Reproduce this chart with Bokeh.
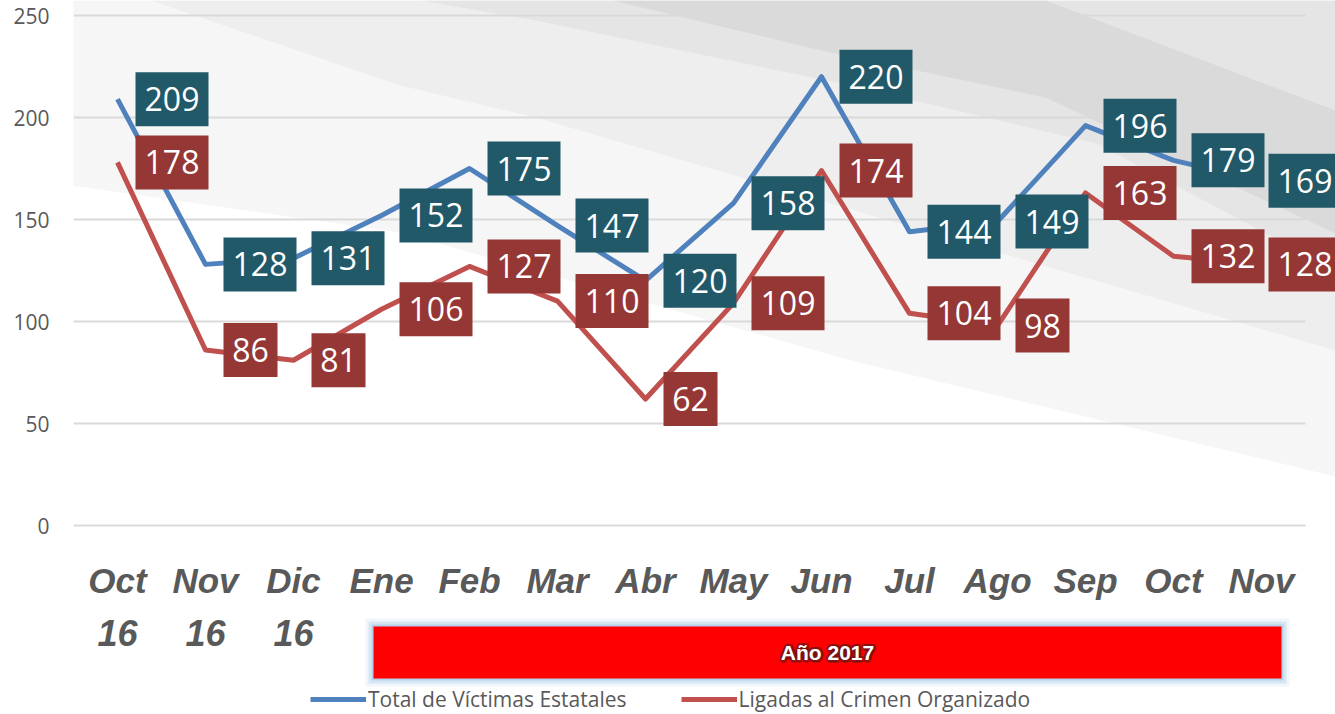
from bokeh.plotting import figure
from bokeh.models import (Range1d, FixedTicker, Legend, LegendItem, ColumnDataSource)
from bokeh.embed import file_html
from bokeh.resources import INLINE
from bokeh.core.properties import value

# ---------------- data ----------------
months = ["Oct", "Nov", "Dic", "Ene", "Feb", "Mar", "Abr", "May", "Jun",
          "Jul", "Ago", "Sep", "Oct", "Nov"]
years = ["16", "16", "16", "", "", "", "", "", "", "", "", "", "", ""]
total = [209, 128, 131, 152, 175, 147, 120, 158, 220, 144, 149, 196, 179, 169]
ligadas = [178, 86, 81, 106, 127, 110, 62, 109, 174, 104, 98, 163, 132, 128]
y_ticks = [0, 50, 100, 150, 200, 250]
series_names = ["Total de Víctimas Estatales", "Ligadas al Crimen Organizado"]
banner_text = "Año 2017"
banner_first, banner_last = 3, 13   # Ene .. Nov 2017

# ---------------- layout constants ----------------
W, H = 1335, 714
LEFT = 73
PLOT_RIGHT = 1305                    # where the category band / grid ends
N = len(months)
PX_X = (PLOT_RIGHT - LEFT) / N       # 88 px per category
FRAME_BOTTOM = 525                   # pixel row of value 0
PX_Y = (FRAME_BOTTOM - 15) / y_ticks[-1]   # 2.04 px per unit

def dx(px):   # screen px -> x data
    return (px - LEFT) / PX_X - 0.5

def dy(py):   # screen px -> y data
    return (FRAME_BOTTOM - py) / PX_Y

GREY = "#595959"
BLUE = "#4F81BD"
RED = "#C0504D"
BOX_BLUE = "#215968"
BOX_RED = "#953735"

p = figure(width=W, height=H, output_backend="svg", toolbar_location=None,
           x_range=Range1d(dx(LEFT), dx(W)), y_range=Range1d(dy(H), dy(0)),
           min_border_left=LEFT, min_border_right=0, min_border_top=0,
           min_border_bottom=0)
p.outline_line_color = None
p.background_fill_color = "white"
p.border_fill_color = "white"
p.xaxis.visible = False
p.xgrid.visible = False
p.ygrid.visible = False

# decorative background swooshes (screen px polygons)
decor = [
    ("#F6F6F6", [(0, 0), (1335, 0), (1335, 476), (850, 360), (400, 232), (0, 175)]),
    ("#EEEEEE", [(150, 0), (1335, 0), (1335, 350), (535, 117), (400, 85)]),
    ("#E5E5E5", [(420, 0), (1335, 0), (1335, 270), (1096, 143), (841, 83), (535, 20)]),
    ("#DADADA", [(612, 0), (1045, 0), (1335, 110), (1335, 233), (1045, 97), (821, 50)]),
]
for col, pts in decor:
    p.patch([dx(a) for a, b in pts], [dy(b) for a, b in pts],
            fill_color=col, line_color=None)

# horizontal grid lines across the category band only
p.segment(x0=[-0.5] * len(y_ticks), x1=[N - 0.5] * len(y_ticks), y0=y_ticks, y1=y_ticks,
          line_color="#D9D9D9", line_width=2)

# y axis
ya = p.yaxis[0]
ya.ticker = FixedTicker(ticks=y_ticks)
ya.axis_line_color = None
ya.major_tick_line_color = None
ya.minor_tick_line_color = None
ya.major_label_standoff = 18
ya.major_label_text_font = "Open Sans"
ya.major_label_text_font_size = "21px"
ya.major_label_text_color = GREY

xs = list(range(N))

# category labels (two rows) below the plot band
p.text(x=xs, y=[dy(580)] * N, text=months, text_align="center",
       text_baseline="alphabetic", text_color=GREY,
       text_font=value("Liberation Sans"), text_font_style="bold italic",
       text_font_size="35px")
p.text(x=xs, y=[dy(632)] * N, text=years, text_align="center",
       text_baseline="alphabetic", text_color=GREY,
       text_font=value("Liberation Sans"), text_font_style="bold italic",
       text_font_size="36px")

# lines
r_blue = p.line(xs, total, line_color=BLUE, line_width=5, line_join="round")
r_red = p.line(xs, ligadas, line_color=RED, line_width=5, line_join="round")

# data labels (boxes to the right of each point, pulled in at the right edge)
def label_source(vals):
    w = [19 * len(str(v)) + 16 for v in vals]
    bx = []
    for i, wi in zip(xs, w):
        x_px = LEFT + (i + 0.5) * PX_X
        off = min(18, W + 6 - wi - x_px)
        bx.append(i + (off + wi / 2) / PX_X)
    return ColumnDataSource(dict(bx=bx, y=vals, w=w, t=[str(v) for v in vals]))

for vals, col in ((ligadas, BOX_RED), (total, BOX_BLUE)):
    src = label_source(vals)
    p.rect(x="bx", y="y", width="w", height=54, width_units="screen",
           height_units="screen", fill_color=col, line_color=None, source=src)
    p.text(x="bx", y="y", text="t", source=src, text_align="center",
           text_baseline="middle", text_color="white",
           text_font=value("Open Sans"), text_font_size="32px")

# banner "Año 2017"
b_left = banner_first - 8 / PX_X
b_right = banner_last + 20 / PX_X
b_top, b_bot = dy(626), dy(678)
for grow, alpha in ((8, 0.15), (5, 0.3), (2, 0.55)):
    p.quad(left=b_left - grow / PX_X, right=b_right + grow / PX_X,
           top=b_top + grow / PX_Y, bottom=b_bot - grow / PX_Y,
           fill_color="#9DC3E6", fill_alpha=alpha, line_color=None)
p.quad(left=b_left, right=b_right, top=b_top, bottom=b_bot,
       fill_color="#FF0000", line_color=None)
bx_c = (b_left + b_right) / 2
by_c = (b_top + b_bot) / 2
offs = [(-2.5, 0), (2.5, 0), (0, -2.5), (0, 2.5), (-2, -2), (2, 2), (-2, 2), (2, -2)]
p.text(x=[bx_c] * len(offs), y=[by_c] * len(offs), text=[banner_text] * len(offs),
       x_offset=[o[0] for o in offs], y_offset=[o[1] for o in offs],
       text_align="center", text_baseline="middle", text_color="#6E1414",
       text_alpha=0.55, text_font=value("Liberation Sans"), text_font_style="bold",
       text_font_size="21px")
p.text(x=[bx_c], y=[by_c], text=[banner_text], text_align="center",
       text_baseline="middle", text_color="white",
       text_font=value("Liberation Sans"), text_font_style="bold",
       text_font_size="21px")

# legend
legend = Legend(items=[LegendItem(label=series_names[0], renderers=[r_blue]),
                       LegendItem(label=series_names[1], renderers=[r_red])],
                orientation="horizontal", location=(237, 1),
                glyph_width=56, glyph_height=20, label_standoff=2, spacing=54,
                padding=0, margin=0, border_line_color=None,
                background_fill_alpha=0,
                label_text_font="Open Sans", label_text_font_size="21px",
                label_text_color=GREY)
p.add_layout(legend)

open("out.html", "w").write(file_html(p, INLINE))
